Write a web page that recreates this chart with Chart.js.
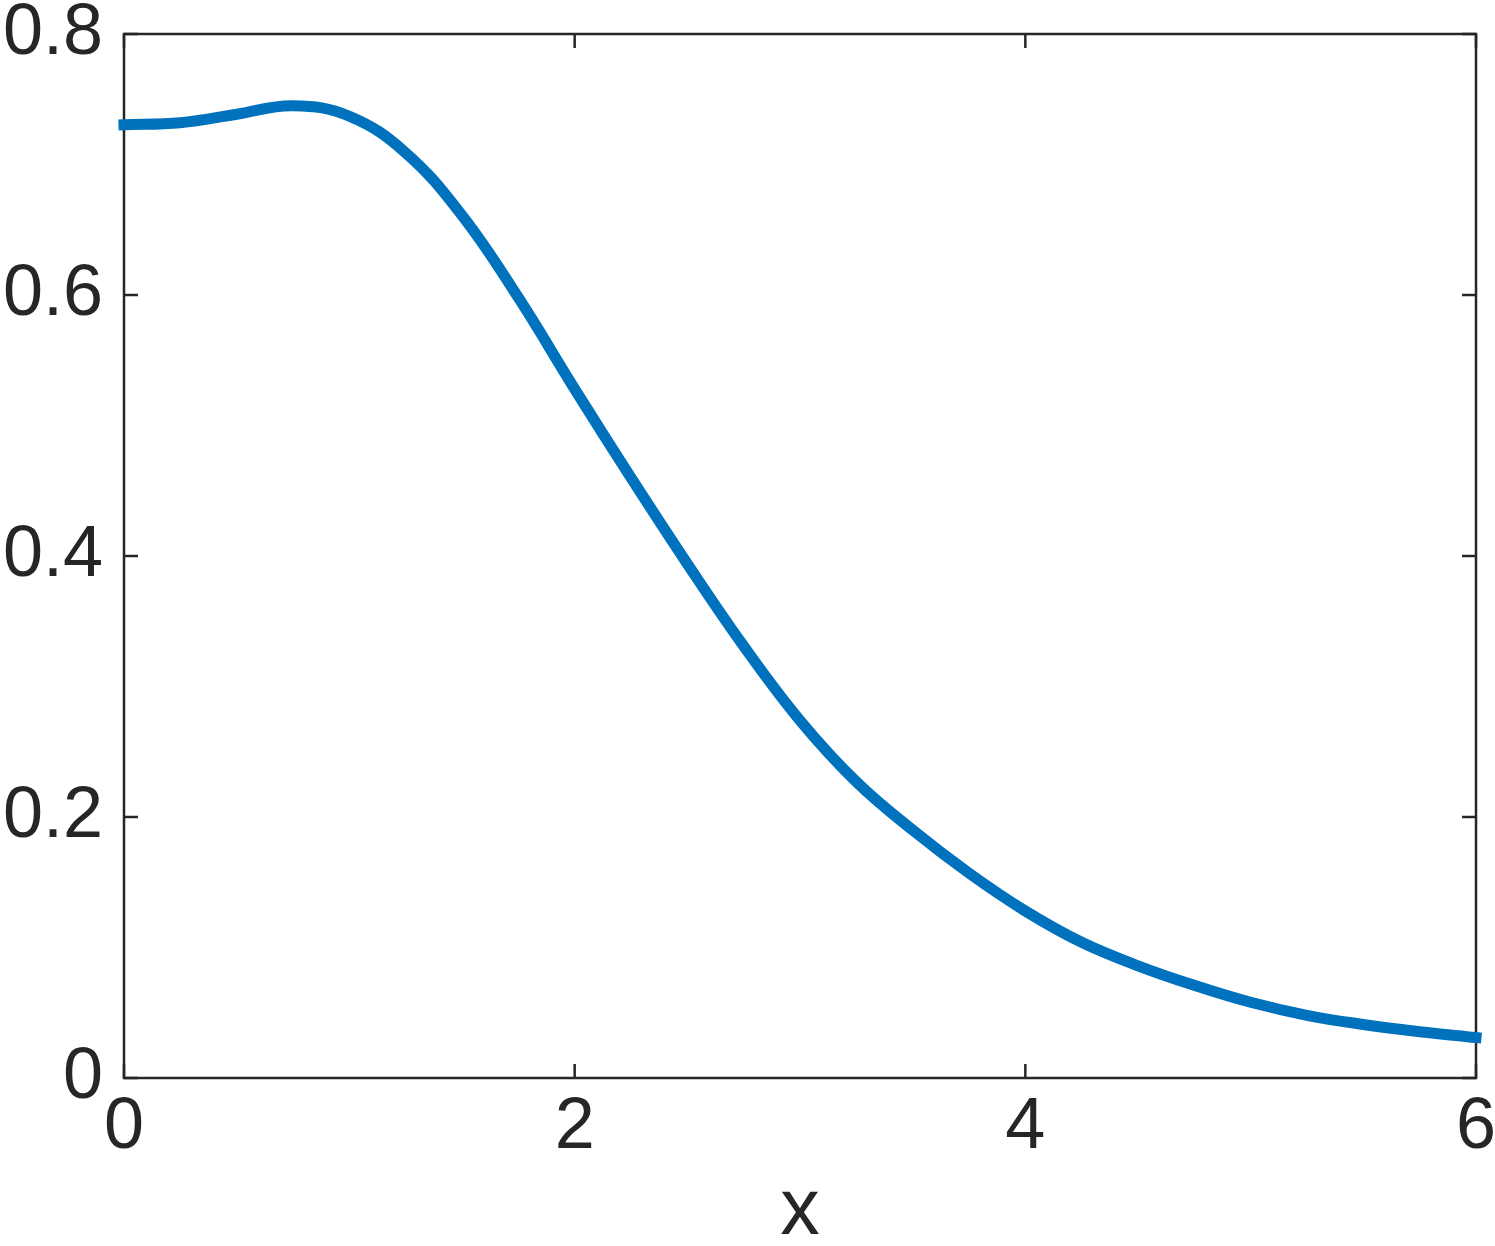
<!DOCTYPE html>
<html>
<head>
<meta charset="utf-8">
<script src="https://cdn.jsdelivr.net/npm/chart.js@4"></script>
<style>
    html, body { margin: 0; padding: 0; background: #fff; }
    canvas { display: block; }
</style>
</head>
<body>
<canvas id="chart" width="1495" height="1246"></canvas>
<script>
// --- Data (every 0.25 along x) ---
const xValues = [0, 0.25, 0.5, 0.75, 1.0, 1.25, 1.5, 1.75, 2.0, 2.25, 2.5, 2.75, 3.0,
                 3.25, 3.5, 3.75, 4.0, 4.25, 4.5, 4.75, 5.0, 5.25, 5.5, 5.75, 6.0];
const yValues = [0.7305, 0.732, 0.7385, 0.745, 0.737, 0.709, 0.661, 0.598, 0.528, 0.460, 0.394, 0.331, 0.274,
                 0.227, 0.190, 0.157, 0.128, 0.104, 0.086, 0.071, 0.058, 0.048, 0.041, 0.0355, 0.031];
const xTicks = [0, 2, 4, 6];
const yTicks = [0, 0.2, 0.4, 0.6, 0.8];
const xLabel = 'x';

const TEXT_COLOR = '#262626';
const LINE_COLOR = '#0072BD';
const FONT = '"Liberation Sans", Arial, Helvetica, sans-serif';
const TICK_LEN = 14;

/**
 * Draws the closed axes box with inward ticks on all four sides.
 */
const axisBox = {
    id: 'axisBox',
    beforeDatasetsDraw(chart) {
        const { ctx, chartArea: a, scales: { x, y } } = chart;
        ctx.save();
        ctx.strokeStyle = TEXT_COLOR;
        ctx.lineWidth = 2.5;
        ctx.strokeRect(a.left, a.top, a.right - a.left, a.bottom - a.top);
        ctx.beginPath();
        x.ticks.forEach(t => {
            const px = x.getPixelForValue(t.value);
            ctx.moveTo(px, a.bottom); ctx.lineTo(px, a.bottom - TICK_LEN);
            ctx.moveTo(px, a.top); ctx.lineTo(px, a.top + TICK_LEN);
        });
        y.ticks.forEach(t => {
            const py = y.getPixelForValue(t.value);
            ctx.moveTo(a.left, py); ctx.lineTo(a.left + TICK_LEN, py);
            ctx.moveTo(a.right, py); ctx.lineTo(a.right - TICK_LEN, py);
        });
        ctx.stroke();
        ctx.restore();
    }
};

const points = xValues.map((x, i) => ({ x, y: yValues[i] }));

new Chart(document.getElementById('chart'), {
    type: 'line',
    data: {
        datasets: [{
            data: points,
            borderColor: LINE_COLOR,
            borderWidth: 11,
            borderCapStyle: 'square',
            pointRadius: 0,
            tension: 0.4,
            clip: false
        }]
    },
    options: {
        responsive: false,
        animation: false,
        layout: { padding: { left: 0, right: 19, top: 34, bottom: 0 } },
        plugins: {
            legend: { display: false },
            tooltip: { enabled: false }
        },
        scales: {
            x: {
                type: 'linear',
                min: 0,
                max: 6,
                afterBuildTicks: scale => { scale.ticks = xTicks.map(v => ({ value: v })); },
                afterFit: scale => {
                    scale.height = 168;
                    scale.paddingLeft = 0;
                    scale.paddingRight = 0;
                },
                grid: { display: false, drawTicks: false },
                border: { display: false },
                ticks: {
                    color: TEXT_COLOR,
                    font: { family: FONT, size: 72 },
                    padding: 7,
                    maxRotation: 0
                },
                title: {
                    display: true,
                    text: xLabel,
                    color: TEXT_COLOR,
                    font: { family: FONT, size: 79, lineHeight: 0.85 },
                    padding: { top: 0, bottom: 0 }
                }
            },
            y: {
                min: 0,
                max: 0.8,
                afterBuildTicks: scale => { scale.ticks = yTicks.map(v => ({ value: v })); },
                afterFit: scale => {
                    scale.width = 124;
                    scale.paddingTop = 0;
                    scale.paddingBottom = 0;
                },
                grid: { display: false, drawTicks: false },
                border: { display: false },
                ticks: {
                    color: TEXT_COLOR,
                    font: { family: FONT, size: 72 },
                    padding: 21,
                    callback: v => String(+v.toFixed(1))
                }
            }
        }
    },
    plugins: [axisBox]
});
</script>
</body>
</html>
